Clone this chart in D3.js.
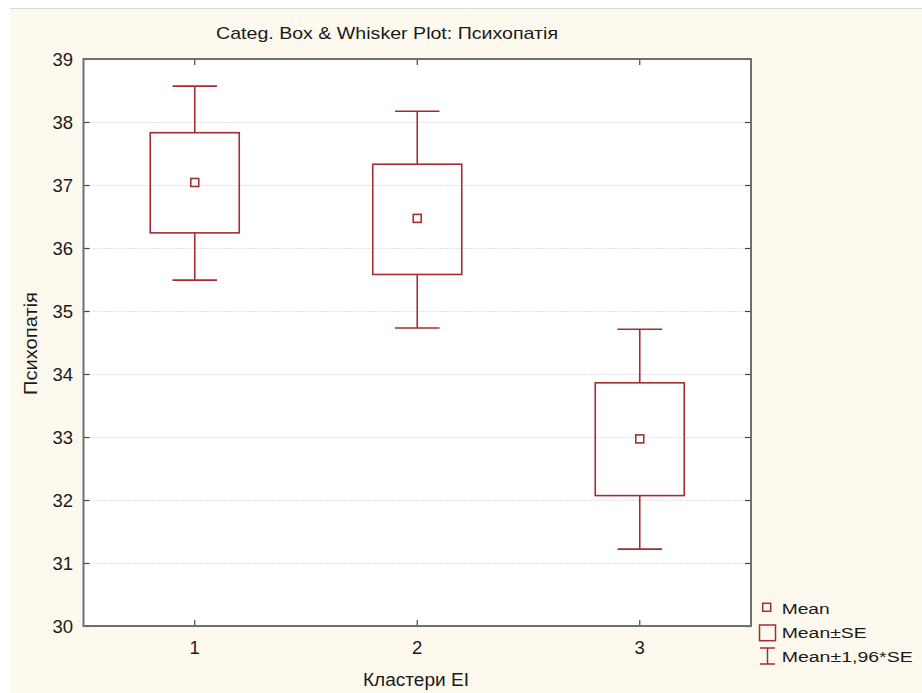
<!DOCTYPE html>
<html>
<head>
<meta charset="utf-8">
<script src="https://cdn.jsdelivr.net/npm/d3@7"></script>
<style>
  html, body { margin: 0; padding: 0; background: #ffffff; }
  svg { display: block; }
  text { font-family: "Liberation Sans", Arial, sans-serif; fill: #1a1a1a; }
</style>
</head>
<body>
<svg id="chart" width="922" height="693"></svg>
<script>
// ---- data ----
const categories = ["1", "2", "3"];
const means   = [37.04, 36.47, 32.97];
const seLow   = [36.24, 35.58, 32.07];
const seHigh  = [37.83, 37.33, 33.86];
const ciLow   = [35.49, 34.73, 31.22];
const ciHigh  = [38.57, 38.17, 34.71];
const yTicks  = [30, 31, 32, 33, 34, 35, 36, 37, 38, 39];
const titleText = "Categ. Box & Whisker Plot: Психопатія";
const xTitle = "Кластери EI";
const yTitle = "Психопатія";
const legendLabels = ["Mean", "Mean±SE", "Mean±1,96*SE"];

// ---- layout ----
const W = 922, H = 693;
const plot = { left: 83.5, right: 751, top: 59, bottom: 626 };
const color = "#a32d33";
const frameColor = "#6f6f6f";

const svg = d3.select("#chart");

// page background
svg.append("rect").attr("x", 10).attr("y", 8).attr("width", W - 10).attr("height", H - 8)
  .attr("fill", "#fdf9ee");
svg.append("line").attr("x1", 10).attr("x2", W).attr("y1", 8.5).attr("y2", 8.5)
  .attr("stroke", "#dcdcd4").attr("stroke-width", 1);

const x = d3.scaleBand().domain(categories).range([plot.left, plot.right]).padding(0);
const y = d3.scaleLinear().domain([30, 39]).range([plot.bottom, plot.top]);

// plot background
svg.append("rect").attr("x", plot.left).attr("y", plot.top)
  .attr("width", plot.right - plot.left).attr("height", plot.bottom - plot.top)
  .attr("fill", "#ffffff");

// gridlines
svg.append("g").selectAll("line").data(yTicks.filter(t => t > 30 && t < 39)).join("line")
  .attr("x1", plot.left).attr("x2", plot.right)
  .attr("y1", d => Math.round(y(d)) + 0.5).attr("y2", d => Math.round(y(d)) + 0.5)
  .attr("stroke", "#c4c4c4").attr("stroke-width", 1).attr("stroke-dasharray", "1,2");

// axes (ticks inward on all four sides)
const yLeft = svg.append("g").attr("transform", `translate(${plot.left},0)`)
  .call(d3.axisRight(y).tickValues(yTicks).tickSize(6).tickFormat(""));
const yRight = svg.append("g").attr("transform", `translate(${plot.right},0)`)
  .call(d3.axisLeft(y).tickValues(yTicks).tickSize(6).tickFormat(""));
const xTop = svg.append("g").attr("transform", `translate(0,${plot.top})`)
  .call(d3.axisBottom(x).tickSize(6).tickFormat(""));
const xBot = svg.append("g").attr("transform", `translate(0,${plot.bottom})`)
  .call(d3.axisTop(x).tickSize(6).tickFormat(""));
[yLeft, yRight, xTop, xBot].forEach(g => {
  g.select(".domain").remove();
  g.selectAll(".tick line").attr("stroke", "#444").attr("stroke-width", 1.2);
});

// tick labels
svg.append("g").selectAll("text").data(yTicks).join("text")
  .attr("x", 73).attr("y", d => y(d)).attr("dy", "0.36em")
  .attr("text-anchor", "end").attr("font-size", 18.5)
  .text(d => d);
svg.append("g").selectAll("text").data(categories).join("text")
  .attr("x", d => x(d) + x.bandwidth() / 2).attr("y", 654)
  .attr("text-anchor", "middle").attr("font-size", 18.5)
  .text(d => d);

// frame
svg.append("rect").attr("x", plot.left).attr("y", plot.top)
  .attr("width", plot.right - plot.left).attr("height", plot.bottom - plot.top)
  .attr("fill", "none").attr("stroke", frameColor).attr("stroke-width", 2);

// boxes and whiskers
const boxW = x.bandwidth() * 0.4;
const capW = x.bandwidth() * 0.2;
const g = svg.append("g");
categories.forEach((c, i) => {
  const cx = x(c) + x.bandwidth() / 2;
  const gg = g.append("g").attr("stroke", color).attr("stroke-width", 1.6).attr("fill", "none");
  // whiskers
  gg.append("line").attr("x1", cx).attr("x2", cx).attr("y1", y(ciHigh[i])).attr("y2", y(seHigh[i]));
  gg.append("line").attr("x1", cx).attr("x2", cx).attr("y1", y(seLow[i])).attr("y2", y(ciLow[i]));
  gg.append("line").attr("x1", cx - capW / 2).attr("x2", cx + capW / 2).attr("y1", y(ciHigh[i])).attr("y2", y(ciHigh[i]));
  gg.append("line").attr("x1", cx - capW / 2).attr("x2", cx + capW / 2).attr("y1", y(ciLow[i])).attr("y2", y(ciLow[i]));
  // box
  gg.append("rect").attr("x", cx - boxW / 2).attr("y", y(seHigh[i]))
    .attr("width", boxW).attr("height", y(seLow[i]) - y(seHigh[i]));
  // mean marker
  gg.append("rect").attr("x", cx - 4).attr("y", y(means[i]) - 4)
    .attr("width", 8).attr("height", 8).attr("fill", "#fff");
});

// titles
svg.append("text").attr("x", 387).attr("y", 39).attr("text-anchor", "middle")
  .attr("font-size", 17).attr("textLength", 342).attr("lengthAdjust", "spacingAndGlyphs")
  .text(titleText);
svg.append("text").attr("x", 416).attr("y", 686).attr("text-anchor", "middle")
  .attr("font-size", 17.5).attr("textLength", 106).attr("lengthAdjust", "spacingAndGlyphs")
  .text(xTitle);
svg.append("text").attr("transform", `translate(37,343.5) rotate(-90)`).attr("text-anchor", "middle")
  .attr("font-size", 18).attr("textLength", 103).attr("lengthAdjust", "spacingAndGlyphs")
  .text(yTitle);

// legend
const lg = svg.append("g");
const lgStroke = { stroke: color, "stroke-width": 1.5, fill: "none" };
lg.append("rect").attr("x", 762.7).attr("y", 603.3).attr("width", 8).attr("height", 8)
  .attr("stroke", color).attr("stroke-width", 1.5).attr("fill", "none");
lg.append("rect").attr("x", 759.5).attr("y", 625).attr("width", 16).attr("height", 15.7)
  .attr("stroke", color).attr("stroke-width", 1.5).attr("fill", "none");
const wl = lg.append("g").attr("stroke", color).attr("stroke-width", 1.5);
wl.append("line").attr("x1", 767.5).attr("x2", 767.5).attr("y1", 648).attr("y2", 664);
wl.append("line").attr("x1", 760).attr("x2", 775).attr("y1", 648).attr("y2", 648);
wl.append("line").attr("x1", 760).attr("x2", 775).attr("y1", 664).attr("y2", 664);
const legendY = [614, 638, 661.5];
const legendLen = [48, 85, 131];
lg.selectAll("text").data(legendLabels).join("text")
  .attr("x", 781.7).attr("y", (d, i) => legendY[i])
  .attr("font-size", 15.5)
  .attr("textLength", (d, i) => legendLen[i]).attr("lengthAdjust", "spacingAndGlyphs")
  .text(d => d);
</script>
</body>
</html>
